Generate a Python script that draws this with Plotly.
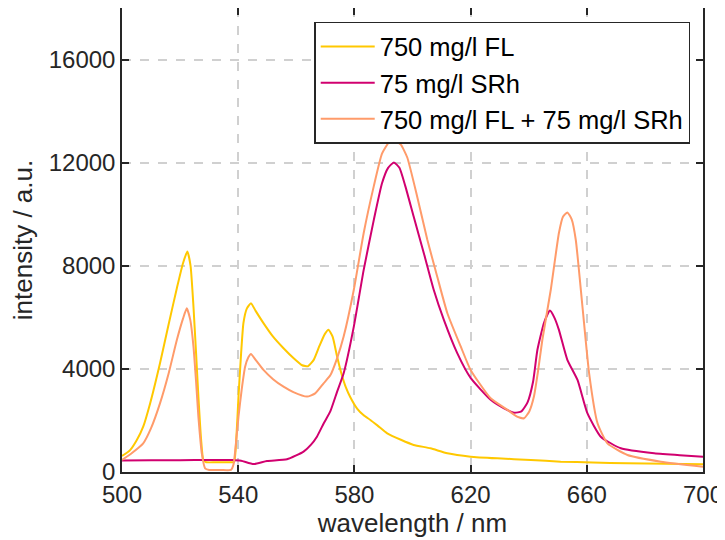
import plotly.graph_objects as go

# 750 mg/l FL
fl_x = [500, 502.8, 505.1, 507.3, 509.7, 513.1, 516, 518.9, 521, 522.5, 523.6, 524.6, 525.5, 526.3, 527.2, 528.0, 529, 532, 535, 537.5, 538.6,
        539.4, 540.1, 541, 541.8, 543, 544.4, 546, 548.7, 552, 555.6, 559, 562, 564, 566, 568, 569.8, 571.1, 572.5, 574, 575.5,
        577, 578.6, 581, 583.2, 585.5, 588, 591.3, 596, 600.4, 606.2, 612, 620, 629.2, 640.7, 651, 662, 674, 687, 700]
fl_y = [620, 850, 1240, 1760, 2670, 4230, 5700, 7140, 8100, 8556, 8000, 6420, 4600, 2925, 1300, 466, 380, 376, 376, 376, 390,
        1400, 2925, 4600, 5780, 6350, 6550, 6250, 5775, 5250, 4800, 4420, 4140, 4100, 4350, 4900, 5350, 5515, 5250, 4500, 3830,
        3300, 2900, 2450, 2200, 2020, 1800, 1500, 1250, 1050, 920, 725, 595, 530, 466, 400, 370, 336, 320, 298]

# 75 mg/l SRh
srh_x = [500, 510, 520, 530, 538, 541, 545.3, 549.9, 556.8, 562.5, 565, 567.1, 569.5, 571.7, 574, 576.3, 579.8, 583.2,
         586.7, 589.5, 591.6, 593.6, 595.5, 597.5, 600.4, 603.9, 607.3, 610.8, 615.4, 620, 626.9, 631.5, 635, 637.5, 639.6,
         641.5, 643, 645.3, 647.3, 648.8, 650.4, 653.3, 656.8, 660.2, 664.8, 671.7, 683.2, 692, 700]
srh_y = [450, 460, 460, 466, 466, 440, 310, 427, 493, 790, 1050, 1370, 1900, 2350, 3100, 3830, 5640, 7840,
         9790, 11200, 11800, 12010, 11800, 11100, 9910, 8490, 7070, 5900, 4610, 3650, 2800, 2470, 2300, 2350, 2700,
         3500, 4740, 5800, 6265, 6000, 5515, 4350, 3570, 2280, 1370, 920, 725, 650, 595]

# 750 mg/l FL + 75 mg/l SRh
mix_x = [500, 503, 507.3, 510, 513.1, 516, 518.9, 521, 522.3, 523.5, 524.6, 525.5, 526.3, 527.5, 528.6, 530, 534, 537.5,
         538.4, 539.3, 540.1, 541.2, 542.4, 543.5, 544.4, 546, 548.7, 552, 555.6, 559, 563.7, 566.5, 569.4, 571.7,
         574, 576.3, 579.8, 583.2, 586.7, 589.5, 592, 593.9, 596, 598.2, 601.6, 605.1, 608.5, 612, 616.6, 620, 626.9, 632.7,
         636, 638.4, 640.2, 641.8, 643.2, 644.7, 647.6, 650.4, 651.8, 653.3, 654.8, 656.2, 658.5, 660.8, 663.7, 667.1,
         674, 685.5, 700]
mix_y = [466, 700, 1110, 1700, 2670, 3800, 5130, 5950, 6350, 5900, 4870, 3500, 2150, 700, 140, 80, 80, 80,
         300, 1200, 2150, 3200, 4090, 4450, 4580, 4350, 3960, 3600, 3310, 3100, 2925, 3050, 3440, 3750,
         4400, 5255, 7070, 9270, 11100, 12350, 12800, 12870, 12700, 12200, 10690, 9010, 7585, 6160, 4870, 3960, 2860, 2410,
         2150, 2085, 2350, 2925, 3900, 5130, 7070, 9270, 9900, 10070, 9800, 9010, 6420, 3830, 1890, 1110,
         660, 400, 205]

fig = go.Figure()
fig.add_trace(go.Scatter(x=fl_x, y=fl_y, mode='lines', name='750 mg/l FL',
                         line=dict(color='#FFC800', width=2, shape='spline', smoothing=0.5)))
fig.add_trace(go.Scatter(x=srh_x, y=srh_y, mode='lines', name='75 mg/l SRh',
                         line=dict(color='#D1006F', width=2, shape='spline', smoothing=0.5)))
fig.add_trace(go.Scatter(x=mix_x, y=mix_y, mode='lines', name='750 mg/l FL + 75 mg/l SRh',
                         line=dict(color='#FF9B6A', width=2, shape='spline', smoothing=0.5)))

axis_common = dict(
    showline=True, linecolor='#262626', linewidth=1.5, mirror='ticks',
    ticks='inside', ticklen=7, tickwidth=1.5, tickcolor='#262626',
    showgrid=True, gridcolor='#D0D0D0', griddash='dash', gridwidth=1.5,
    zeroline=False, automargin=False,
    tickfont=dict(size=24, color='#262626'),
)

# page body has an 8px margin, so the figure is sized/offset to compensate
fig.update_layout(
    width=717, height=532,
    margin=dict(l=114, r=22, t=0, b=68),
    plot_bgcolor='white', paper_bgcolor='white',
    font=dict(family='Liberation Sans, Arial', size=24, color='#262626'),
    showlegend=True,
    legend=dict(x=0.978, y=0.97, xanchor='right', yanchor='top',
                bgcolor='white', bordercolor='#262626', borderwidth=1.5,
                font=dict(size=25.5, color='black'), tracegroupgap=0,
                itemwidth=54),
    xaxis=dict(axis_common, range=[500, 700], tickvals=[500, 540, 580, 620, 660, 700],
               ticktext=['500', '540', '580', '620', '660', '700'],
               title=dict(text='wavelength / nm', standoff=6, font=dict(size=26))),
    yaxis=dict(axis_common, range=[0, 18000], tickvals=[0, 4000, 8000, 12000, 16000],
               ticktext=['0', '4000', '8000', '12000', '16000'],
               title=dict(text='intensity / a.u.', standoff=10, font=dict(size=26))),
)

fig.write_html("out.html")
